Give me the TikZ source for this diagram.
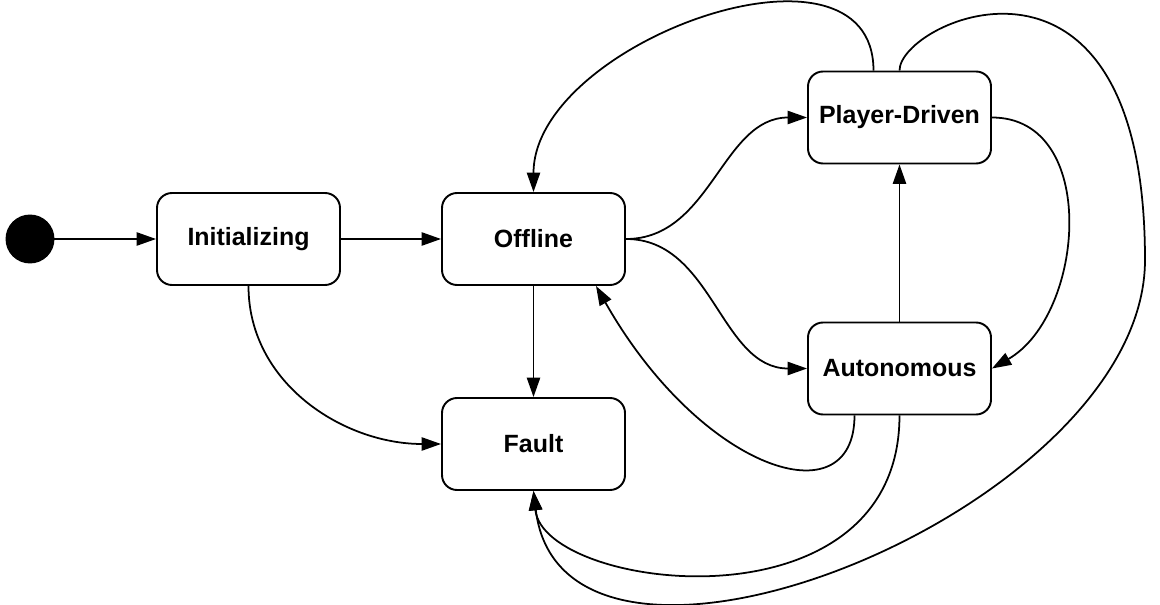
\documentclass[tikz,border=0pt]{standalone}
\usepackage{fontspec}
\setmainfont{Liberation Sans}
\usetikzlibrary{arrows.meta}

\begin{document}
\begin{tikzpicture}
        [every node/.style={draw,rounded corners=0.3cm,line width=1.1pt,minimum width=3.66cm,minimum height=1.84cm,font=\fontsize{14.2}{17}\selectfont\bfseries},
         line width=1pt, >={Triangle[length=11pt,width=7.5pt]}]

        \useasboundingbox (0,0) rectangle (23.2,-12.1);

        \node[circle,fill=black,minimum size=0.94cm,minimum width=0.94cm,minimum height=0.94cm,inner sep=0] (start) at (0.6,-4.78) {};
        \node (init) at (4.97,-4.78) {Initializing};
        \node (offline) at (10.67,-4.78) {Offline};
        \node (fault) at (10.67,-8.88) {Fault};
        \node (player) at (17.99,-2.35) {Player-Driven};
        \node (auto) at (17.99,-7.37) {Autonomous};

        \draw[->] (start) -- (init);
        \draw[->] (init) -- (offline);
        \draw[->] (init.south) to[out=-90,in=180] (fault.west);
        \draw[->] (offline) -- (fault);
        \draw[->] (offline.east) to[out=0,in=180] (player.west);
        \draw[->] (offline.east) to[out=0,in=180] (auto.west);
        \draw[->] (auto) -- (player);
        \draw[->] (player.east) to[out=0,in=30,looseness=1.1] (auto.east);
        \draw[->] ([xshift=-0.52cm]player.north) .. controls +(0,3) and +(0,3) .. (offline.north);
        \draw[->] ([xshift=-0.9cm]auto.south) .. controls +(0,-2.1) and +(2.1,-3.7) .. ([xshift=1.25cm]offline.south);
        \draw[->] (auto.south) .. controls +(0,-4.4) and +(0.2,-2) .. (fault.south);
        \draw[->] (player.north) .. controls +(0,1) and +(0,7) .. (22.9,-5.2) .. controls +(0,-5) and +(0.6,-5) .. (fault.south);

      \end{tikzpicture}
\end{document}
